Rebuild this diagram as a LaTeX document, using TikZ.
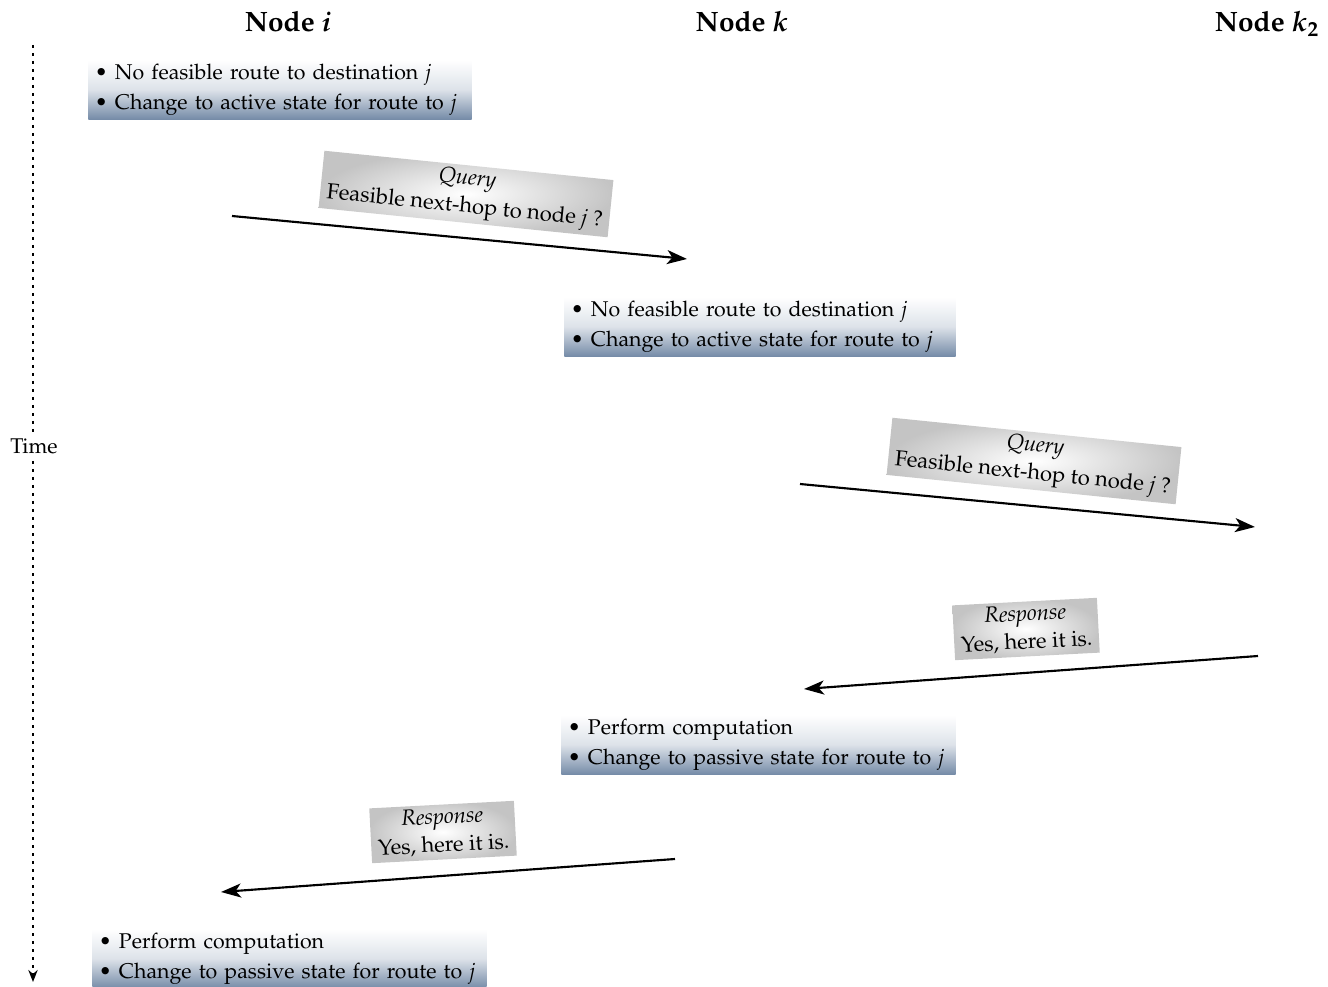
\documentclass[tikz,border=0pt]{standalone}
\usepackage[T1]{fontenc}
\usepackage{mathpazo}
\usetikzlibrary{arrows.meta,calc}

\definecolor{steel}{RGB}{118,140,168}
\definecolor{msggray}{RGB}{196,196,196}

\tikzset{
  px/.style={x=0.75pt,y=-0.75pt},
  header/.style={font=\fontsize{21}{24}\selectfont\bfseries, inner sep=0pt},
  statebox/.style={anchor=north west, inner xsep=5pt, inner ysep=2.5pt,
    top color=white, bottom color=steel, middle color=white!75!steel,
    align=left, font=\fontsize{16}{23}\selectfont},
  msgbox/.style={inner xsep=5pt, inner ysep=3pt, align=center,
    inner color=white, outer color=msggray, shading=radial,
    font=\fontsize{16.5}{21}\selectfont},
  msgarrow/.style={line width=1.6pt, -{Stealth[length=15pt,width=10.5pt,inset=4pt]}},
  timeline/.style={line width=2pt, dash pattern=on 2pt off 4pt,
    -{Stealth[length=9pt,width=7pt]}}
}

\begin{document}
\begin{tikzpicture}[px]
\useasboundingbox (0,0) rectangle (1328,987);

% column headings
\node[header] (hi) at (288,22) {Node \textit{i}};
\node[header] (hk) at (742,22) {Node \textit{k}};
\node[header] (hk2) at (1267,24) {Node \textit{k}$_{\mathbf{2}}$};

% time axis
\coordinate (t0) at (33,45);
\coordinate (t1) at (33,982);
\draw[timeline] (t0) -- (t1);
\node[fill=white, inner sep=2pt, font=\fontsize{16}{18}\selectfont] (time) at (34,446) {Time};

% state changes
\node[statebox, text width=370pt*0.75] (s1) at (88,60)
  {\textbullet{} No feasible route to destination \textit{j}\\
   \textbullet{} Change to active state for route to \textit{j}};
\node[statebox, text width=378pt*0.75] (s2) at (564,297)
  {\textbullet{} No feasible route to destination \textit{j}\\
   \textbullet{} Change to active state for route to \textit{j}};
\node[statebox, text width=381pt*0.75] (s3) at (561,715)
  {\textbullet{} Perform computation\\
   \textbullet{} Change to passive state for route to \textit{j}};
\node[statebox, text width=381pt*0.75] (s4) at (92,929)
  {\textbullet{} Perform computation\\
   \textbullet{} Change to passive state for route to \textit{j}};

% messages
\node[msgbox, rotate=-5.8] (q1) at (466,194)
  {\textit{Query}\\Feasible next-hop to node \textit{j} ?};
\node[msgbox, rotate=-5.8] (q2) at (1034,461)
  {\textit{Query}\\Feasible next-hop to node \textit{j} ?};
\node[msgbox, rotate=3] (r1) at (1026,629)
  {\textit{Response}\\Yes, here it is.};
\node[msgbox, rotate=3] (r2) at (443,832)
  {\textit{Response}\\Yes, here it is.};

% message arrows
\coordinate (a1s) at (232,216);
\coordinate (a1e) at (687,259);
\coordinate (a2s) at (800,484);
\coordinate (a2e) at (1255,527);
\coordinate (a3s) at (1258,656);
\coordinate (a3e) at (804,689);
\coordinate (a4s) at (675,859);
\coordinate (a4e) at (221,892);
\draw[msgarrow] (a1s) -- (a1e);
\draw[msgarrow] (a2s) -- (a2e);
\draw[msgarrow] (a3s) -- (a3e);
\draw[msgarrow] (a4s) -- (a4e);
\end{tikzpicture}
\end{document}
